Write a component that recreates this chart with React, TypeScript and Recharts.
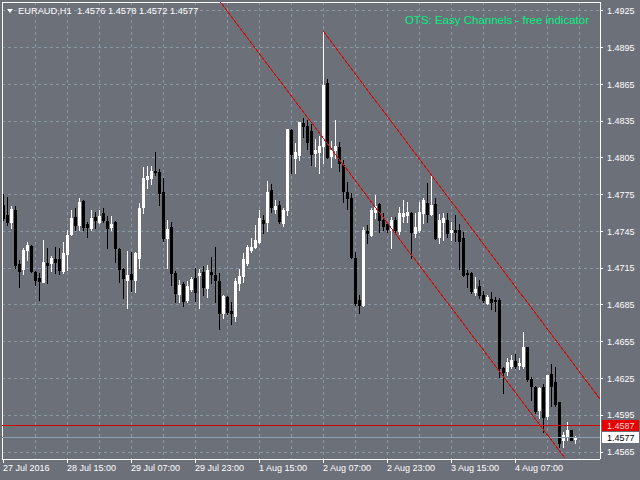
import React from 'react';
import { ComposedChart, Bar, XAxis, YAxis, ReferenceLine, CartesianGrid } from 'recharts';

// ---- Data (EURAUD H1) ----
const opens = [
  1.47666, 1.47585, 1.47525, 1.47626, 1.47185, 1.47144, 1.47299, 1.47334, 1.47117, 1.47068,
  1.47040, 1.47195, 1.47190, 1.47226, 1.47226, 1.47128, 1.47264, 1.47427, 1.47571, 1.47503,
  1.47699, 1.47509, 1.47481, 1.47568, 1.47530, 1.47599, 1.47536, 1.47484, 1.47530, 1.47307,
  1.47144, 1.47054, 1.47101, 1.47054, 1.47236, 1.47653, 1.47876, 1.47884, 1.47946, 1.47938,
  1.47770, 1.47399, 1.47489, 1.47109, 1.46937, 1.47019, 1.46891, 1.46981, 1.47068, 1.47095,
  1.47117, 1.46986, 1.47117, 1.47095, 1.47046, 1.46782, 1.46918, 1.46801, 1.46760, 1.47027,
  1.47089, 1.47195, 1.47299, 1.47326, 1.47367, 1.47544, 1.47530, 1.47789, 1.47634, 1.47666,
  1.47517, 1.47626, 1.48279, 1.48048, 1.48075, 1.48338, 1.48314, 1.48270, 1.48093, 1.48101,
  1.48150, 1.48660, 1.48069, 1.48115, 1.48142, 1.47993, 1.47775, 1.47726, 1.47231, 1.46891,
  1.46850, 1.47454, 1.47422, 1.47612, 1.47674, 1.47544, 1.47511, 1.47466, 1.47544, 1.47450,
  1.47579, 1.47585, 1.47599, 1.47435, 1.47462, 1.47599, 1.47680, 1.47590, 1.47672, 1.47408,
  1.47530, 1.47544, 1.47448, 1.47462, 1.47462, 1.47399, 1.47109, 1.47109, 1.46954, 1.47008,
  1.46932, 1.46864, 1.46899, 1.46891, 1.46891, 1.46333, 1.46314, 1.46356, 1.46390, 1.46360,
  1.46352, 1.46505, 1.46246, 1.46183, 1.45993, 1.46177, 1.45940, 1.46283, 1.46224, 1.46061,
  1.45748, 1.45773, 1.45830, 1.4576,
];
const highs = [
  1.47754, 1.47734, 1.47661, 1.47661, 1.47217, 1.47313, 1.47367, 1.47340, 1.47128, 1.47109,
  1.47381, 1.47318, 1.47253, 1.47324, 1.47313, 1.47362, 1.47462, 1.47626, 1.47639, 1.47726,
  1.47707, 1.47525, 1.47626, 1.47612, 1.47626, 1.47639, 1.47579, 1.47579, 1.47536, 1.47313,
  1.47150, 1.47291, 1.47285, 1.47285, 1.47680, 1.47979, 1.47987, 1.47985, 1.48101, 1.47960,
  1.47884, 1.47544, 1.47525, 1.47128, 1.47054, 1.47040, 1.47046, 1.47081, 1.47155, 1.47144,
  1.47168, 1.47177, 1.47244, 1.47326, 1.47109, 1.46932, 1.46920, 1.46877, 1.47068, 1.47144,
  1.47272, 1.47340, 1.47394, 1.47503, 1.47626, 1.47585, 1.47865, 1.47838, 1.47707, 1.47702,
  1.47639, 1.48284, 1.48284, 1.48170, 1.48346, 1.48374, 1.48360, 1.48325, 1.48205, 1.48232,
  1.49087, 1.48695, 1.48189, 1.48360, 1.48183, 1.48034, 1.47852, 1.47764, 1.47280, 1.46932,
  1.47489, 1.47503, 1.47639, 1.47748, 1.47685, 1.47601, 1.47530, 1.47571, 1.47571, 1.47646,
  1.47703, 1.47693, 1.47609, 1.47599, 1.47693, 1.47721, 1.47844, 1.47917, 1.47726, 1.47590,
  1.47599, 1.47599, 1.47530, 1.47585, 1.47509, 1.47448, 1.47136, 1.47122, 1.47081, 1.47054,
  1.46964, 1.46932, 1.46954, 1.46918, 1.46907, 1.46346, 1.46415, 1.46442, 1.46450, 1.46415,
  1.46630, 1.46510, 1.46265, 1.46189, 1.46183, 1.46205, 1.46279, 1.46368, 1.46346, 1.46061,
  1.45816, 1.45897, 1.45830, 1.4578,
];
const lows = [
  1.47544, 1.47503, 1.47481, 1.47150, 1.47000, 1.47101, 1.47217, 1.47117, 1.47013, 1.46891,
  1.47038, 1.47027, 1.47128, 1.47109, 1.47101, 1.47109, 1.47136, 1.47422, 1.47462, 1.47462,
  1.47462, 1.47408, 1.47462, 1.47481, 1.47519, 1.47525, 1.47313, 1.47462, 1.47204, 1.47040,
  1.46910, 1.46828, 1.46964, 1.46959, 1.47155, 1.47599, 1.47803, 1.47835, 1.47911, 1.47666,
  1.47372, 1.47155, 1.47013, 1.46877, 1.46877, 1.46844, 1.46877, 1.46964, 1.46883, 1.46828,
  1.46932, 1.46913, 1.47027, 1.46877, 1.46652, 1.46741, 1.46777, 1.46695, 1.46722, 1.46972,
  1.47040, 1.47177, 1.47285, 1.47313, 1.47359, 1.47440, 1.47457, 1.47612, 1.47599, 1.47522,
  1.47495, 1.47585, 1.47930, 1.47930, 1.48034, 1.48224, 1.48123, 1.47993, 1.47987, 1.47930,
  1.48007, 1.48050, 1.47979, 1.48048, 1.47944, 1.47693, 1.47634, 1.47234, 1.46850, 1.46787,
  1.46842, 1.47354, 1.47413, 1.47558, 1.47448, 1.47462, 1.47448, 1.47313, 1.47430, 1.47430,
  1.47528, 1.47530, 1.47231, 1.47408, 1.47448, 1.47517, 1.47530, 1.47585, 1.47389, 1.47354,
  1.47381, 1.47408, 1.47381, 1.47372, 1.47144, 1.47089, 1.47000, 1.46946, 1.46932, 1.46910,
  1.46872, 1.46856, 1.46817, 1.46801, 1.46265, 1.46134, 1.46279, 1.46333, 1.46333, 1.46325,
  1.46332, 1.46230, 1.46075, 1.45966, 1.45925, 1.45816, 1.45917, 1.46026, 1.46026, 1.45693,
  1.45691, 1.45748, 1.45748, 1.4572,
];
const closes = [
  1.47558, 1.47530, 1.47634, 1.47177, 1.47128, 1.47299, 1.47340, 1.47128, 1.47054, 1.47046,
  1.47204, 1.47177, 1.47236, 1.47204, 1.47136, 1.47277, 1.47422, 1.47558, 1.47503, 1.47688,
  1.47489, 1.47489, 1.47558, 1.47544, 1.47579, 1.47544, 1.47481, 1.47511, 1.47313, 1.47144,
  1.47068, 1.47095, 1.47062, 1.47272, 1.47644, 1.47889, 1.47903, 1.47946, 1.47933, 1.47762,
  1.47399, 1.47470, 1.47109, 1.46950, 1.47013, 1.46883, 1.47008, 1.47062, 1.46959, 1.47114,
  1.47000, 1.47136, 1.47101, 1.47054, 1.46787, 1.46924, 1.46795, 1.46782, 1.47046, 1.47089,
  1.47223, 1.47326, 1.47326, 1.47381, 1.47558, 1.47522, 1.47775, 1.47653, 1.47658, 1.47536,
  1.47626, 1.48284, 1.48083, 1.48101, 1.48342, 1.48314, 1.48183, 1.48080, 1.48115, 1.48150,
  1.48646, 1.48061, 1.48115, 1.48150, 1.48007, 1.47781, 1.47726, 1.47239, 1.46866, 1.46850,
  1.47462, 1.47438, 1.47626, 1.47658, 1.47544, 1.47495, 1.47470, 1.47544, 1.47462, 1.47601,
  1.47599, 1.47612, 1.47444, 1.47489, 1.47612, 1.47707, 1.47590, 1.47666, 1.47394, 1.47544,
  1.47558, 1.47435, 1.47462, 1.47448, 1.47372, 1.47095, 1.47101, 1.46964, 1.46981, 1.46932,
  1.46891, 1.46918, 1.46877, 1.46885, 1.46333, 1.46306, 1.46382, 1.46401, 1.46356, 1.46379,
  1.46510, 1.46250, 1.46185, 1.45985, 1.46173, 1.45932, 1.46279, 1.46189, 1.46040, 1.45726,
  1.45789, 1.45826, 1.45752, 1.4577,
];

const xTickIndex = [0, 16, 32, 48, 64, 80, 96, 112, 128];
const xTickLabels = [
  '27 Jul 2016', '28 Jul 15:00', '29 Jul 07:00', '29 Jul 23:00', '1 Aug 15:00',
  '2 Aug 07:00', '2 Aug 23:00', '3 Aug 15:00', '4 Aug 07:00',
];
const yTicks = [
  1.4565, 1.4595, 1.4625, 1.4655, 1.4685, 1.4715, 1.4745, 1.4775, 1.4805, 1.4835,
  1.4865, 1.4895, 1.4925,
];
const verticalGrid = [8, 16, 24, 32, 40, 48, 56, 64, 72, 80, 88, 96, 104, 112, 120, 128, 136, 144];
const channelLower = [{ x: 54.4, y: 1.4932 }, { x: 140.5, y: 1.456 }];
const channelUpper = [{ x: 80, y: 1.49087 }, { x: 149.25, y: 1.46083 }];
const askPrice = 1.4587;
const bidPrice = 1.4577;
const xDomain = [-0.25, 149.25];
const yDomain = [1.45593, 1.49323];
const titleText = 'EURAUD,H1  1.4576 1.4578 1.4572 1.4577';
const indicatorText = 'OTS: Easy Channels - free indicator';

const data = opens.map((o, i) => ({
  i,
  o,
  h: highs[i],
  l: lows[i],
  c: closes[i],
  range: [lows[i], highs[i]],
}));

const BG = '#6c7079';
const GRID = '#8a97a5';
const FONT = '"Liberation Sans", Arial, sans-serif';

const Candle = (props: any) => {
  const { x, y, width, height, payload } = props;
  if (!payload || x == null || y == null) return null;
  const { o, h, l, c } = payload;
  const cx = Math.round(x + width / 2);
  const span = h - l || 1e-9;
  const yO = y + ((h - o) / span) * height;
  const yC = y + ((h - c) / span) * height;
  const bull = c >= o;
  const color = bull ? '#ffffff' : '#000000';
  const top = Math.round(Math.min(yO, yC));
  const bot = Math.max(Math.round(Math.max(yO, yC)), top + 1);
  const wTop = Math.round(y);
  const wBot = Math.max(Math.round(y + height) + 1, wTop + 1);
  return (
    <g>
      <rect x={cx} y={wTop} width={1} height={wBot - wTop} fill={color} />
      <rect x={cx - 1} y={top} width={3} height={bot - top + 1} fill={color} />
    </g>
  );
};

const XTick = (props: any) => {
  const { x, y, payload } = props;
  const idx = xTickIndex.indexOf(payload.value);
  return (
    <text x={x} y={y} dy="0.71em" textAnchor="start" fill="#ffffff" fontSize={9} fontFamily={FONT}>
      {idx >= 0 ? xTickLabels[idx] : ''}
    </text>
  );
};

const priceTag = (bg: string, fg: string, value: number) => (props: any) => {
  const vb = props.viewBox || {};
  const right = (vb.x ?? 2) + (vb.width ?? 598);
  const cy = Math.round(vb.y ?? 0);
  return (
    <g>
      <rect x={right + 2} y={cy - 5} width={37} height={11} fill={bg} />
      <text x={right + 7} y={cy + 4} fill={fg} fontSize={9} fontFamily={FONT}>
        {value.toFixed(4)}
      </text>
    </g>
  );
};

const verticalGen = (args: any) => {
  const xAxis = args && args.xAxis;
  if (xAxis && typeof xAxis.scale === 'function') {
    return verticalGrid.map((v) => xAxis.scale(v));
  }
  const off = (args && args.offset) || { left: 2, width: 598 };
  return verticalGrid.map(
    (v) => off.left + ((v - xDomain[0]) / (xDomain[1] - xDomain[0])) * off.width
  );
};

export default function App() {
  return (
    <div style={{ position: 'absolute', left: 0, top: 0, width: 640, height: 480, background: BG }} className="mtchart">
      <style>{`.mtchart svg rect, .mtchart svg line, .mtchart svg path { shape-rendering: crispEdges; }`}</style>
      <ComposedChart
        width={640}
        height={480}
        data={data}
        margin={{ top: 2, right: 0, bottom: 0, left: 2 }}
      >
        <CartesianGrid
          stroke={GRID}
          strokeDasharray="3 3"
          verticalCoordinatesGenerator={verticalGen}
        />
        <XAxis
          dataKey="i"
          type="number"
          domain={xDomain}
          allowDataOverflow
          ticks={xTickIndex}
          height={21}
          axisLine={{ stroke: '#ffffff' }}
          tickLine={{ stroke: '#ffffff' }}
          tickSize={4}
          tickMargin={2}
          tick={<XTick />}
          interval={0}
        />
        <YAxis
          orientation="right"
          type="number"
          domain={yDomain}
          allowDataOverflow
          ticks={yTicks}
          width={40}
          axisLine={{ stroke: '#ffffff' }}
          tickLine={{ stroke: '#ffffff' }}
          tickSize={3}
          tickMargin={4}
          interval={0}
          tick={{ fill: '#ffffff', fontSize: 9, fontFamily: FONT }}
          tickFormatter={(v: number) => v.toFixed(4)}
        />
        <ReferenceLine x={xDomain[0]} stroke="#ffffff" ifOverflow="visible" />
        <ReferenceLine y={yDomain[1]} stroke="#ffffff" ifOverflow="visible" />
        <ReferenceLine
          y={bidPrice}
          stroke="#8ea0b2"
          ifOverflow="visible"
          label={priceTag('#ffffff', '#000000', bidPrice)}
        />
        <ReferenceLine
          y={askPrice}
          stroke="#d40000"
          ifOverflow="visible"
          label={priceTag('#e60000', '#ffd6d6', askPrice)}
        />
        <ReferenceLine segment={channelLower} stroke="#cc1010" ifOverflow="visible" />
        <ReferenceLine segment={channelUpper} stroke="#cc1010" ifOverflow="visible" />
        <Bar dataKey="range" barSize={3} shape={<Candle />} isAnimationActive={false} />
      </ComposedChart>
      <svg width={640} height={480} style={{ position: 'absolute', left: 0, top: 0, pointerEvents: 'none' }}>
        <polygon points="7,9 13,9 10,13" fill="#ffffff" />
        <text x={18} y={14} fill="#ffffff" fontSize={9.3} fontFamily={FONT} style={{ whiteSpace: 'pre' }}>
          {titleText}
        </text>
        <text x={589} y={24} fill="#00f080" fontSize={11.5} fontFamily={FONT} textAnchor="end">
          {indicatorText}
        </text>
      </svg>
    </div>
  );
}
